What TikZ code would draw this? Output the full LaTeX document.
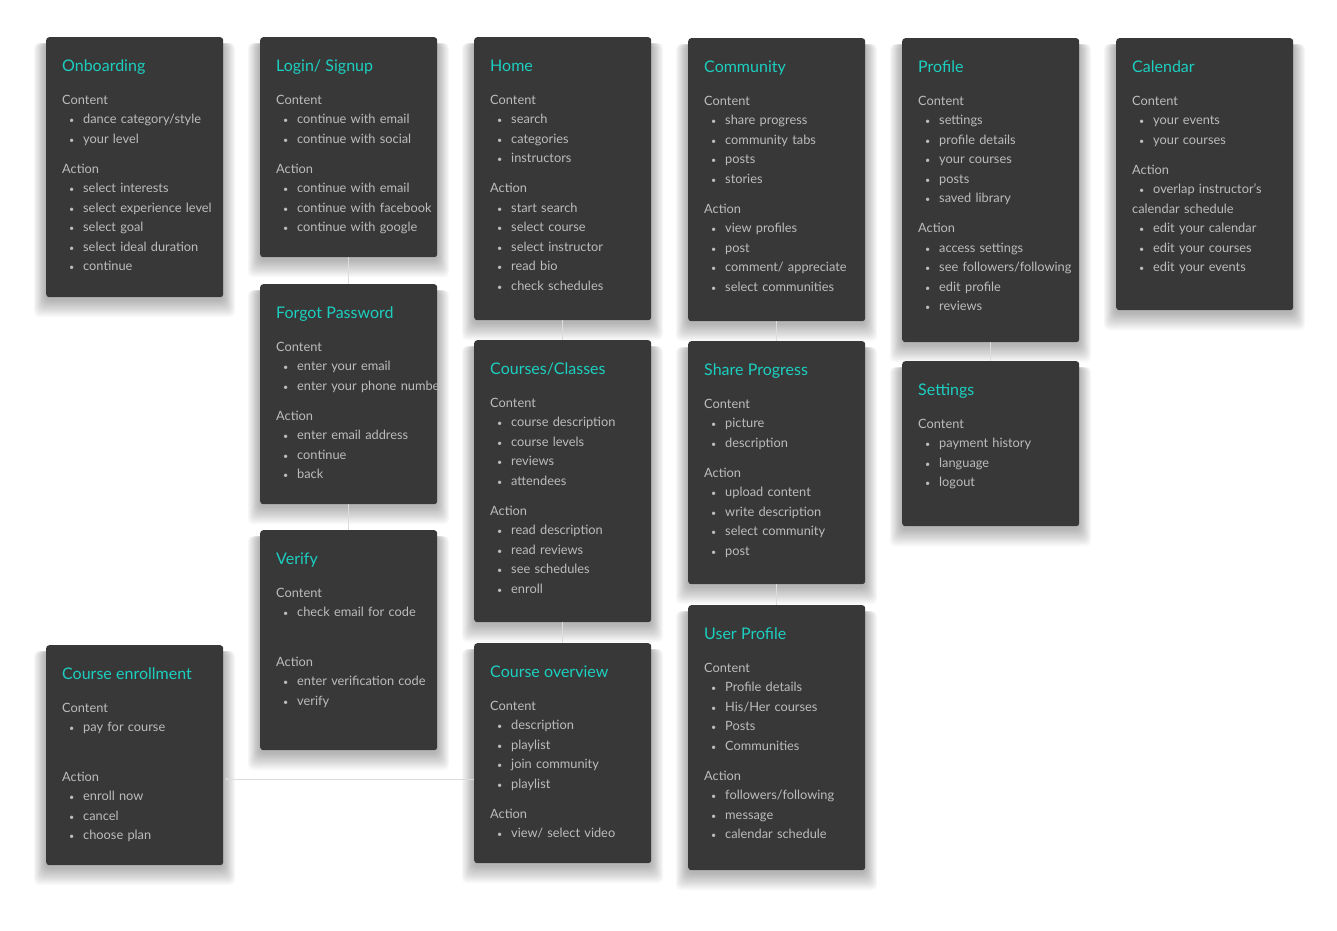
\documentclass[tikz,border=0pt]{standalone}
\usepackage{fontspec}
\setmainfont{Lato}
\usetikzlibrary{calc,arrows.meta}
\definecolor{cardbg}{HTML}{383838}
\definecolor{cardtitle}{HTML}{1CCFC0}
\definecolor{cardfg}{HTML}{BCBCBC}
\definecolor{linkgray}{HTML}{DCDCDC}

% one screen card: name, x, y, height, title, body
\newcommand\card[6]{%
	\foreach \s in {1,...,10}
		\fill[cardshadow] (#2-1.2*\s, #3+6) rectangle (#2+177+1.2*\s, #3+#4+2+1.8*\s);
	\node[card, minimum height=#4] (#1) at (#2,#3) {};
	\begin{scope}
		\clip (#1.north west) rectangle (#1.south east);
		\node[cardtext] (#1-text) at ([shift={(16,22)}]#1.north west)
			{{\color{cardtitle}\fontsize{16}{18}\selectfont\rule{0pt}{12pt}#5\par}\vspace{13.5pt}#6};
	\end{scope}}
\newcommand\head[1]{\par\vspace{10.5pt}#1\par}
\newcommand\itm[1]{\makebox[21pt][l]{\hspace*{7pt}{\fontsize{9}{9}\selectfont\textbullet}}#1\par}
\newcommand\blank{\mbox{}\par}

\begin{document}
\begin{tikzpicture}[
x=1pt, y=-1pt,
card/.style={
	rectangle, fill=cardbg, rounded corners=3pt,
	minimum width=177pt, anchor=north west, inner sep=0pt
},
cardshadow/.style={black, opacity=0.03, rounded corners=5pt},
cardtext/.style={
	anchor=north west, inner sep=0pt, text width=200pt, align=left,
	text=cardfg, font=\fontsize{12.8}{19.5}\selectfont,
	execute at begin node=\setlength{\parindent}{0pt}
},
link/.style={draw=linkgray, line width=1pt}
]
\fill[white] (0,0) rectangle (1337,930);
\useasboundingbox (0,0) rectangle (1337,930);

\card{onboard}{46}{37}{260}{Onboarding}{Content\par
	\itm{dance category/style}\itm{your level}
	\head{Action}
	\itm{select interests}\itm{select experience level}\itm{select goal}
	\itm{select ideal duration}\itm{continue}}
\card{login}{260}{37}{220}{Login/ Signup}{Content\par
	\itm{continue with email}\itm{continue with social}
	\head{Action}
	\itm{continue with email}\itm{continue with facebook}\itm{continue with google}}
\card{home}{474}{37}{283}{Home}{Content\par
	\itm{search}\itm{categories}\itm{instructors}
	\head{Action}
	\itm{start search}\itm{select course}\itm{select instructor}
	\itm{read bio}\itm{check schedules}}
\card{community}{688}{38}{283}{Community}{Content\par
	\itm{share progress}\itm{community tabs}\itm{posts}\itm{stories}
	\head{Action}
	\itm{view profiles}\itm{post}\itm{comment/ appreciate}\itm{select communities}}
\card{profile}{902}{38}{304}{Profile}{Content\par
	\itm{settings}\itm{profile details}\itm{your courses}\itm{posts}\itm{saved library}
	\head{Action}
	\itm{access settings}\itm{see followers/following}\itm{edit profile}\itm{reviews}}
\card{calendar}{1116}{38}{272}{Calendar}{Content\par
	\itm{your events}\itm{your courses}
	\head{Action}
	\itm{overlap instructor's}calendar schedule\par
	\itm{edit your calendar}\itm{edit your courses}\itm{edit your events}}
\card{forgot}{260}{284}{220}{Forgot Password}{Content\par
	\itm{enter your email}\itm{enter your phone number}
	\head{Action}
	\itm{enter email address}\itm{continue}\itm{back}}
\card{verify}{260}{530}{220}{Verify}{Content\par
	\itm{check email for code}\blank
	\head{Action}
	\itm{enter verification code}\itm{verify}}
\card{enroll}{46}{645}{220}{Course enrollment}{Content\par
	\itm{pay for course}\blank
	\head{Action}
	\itm{enroll now}\itm{cancel}\itm{choose plan}}
\card{courses}{474}{340}{282}{Courses/Classes}{Content\par
	\itm{course description}\itm{course levels}\itm{reviews}\itm{attendees}
	\head{Action}
	\itm{read description}\itm{read reviews}\itm{see schedules}\itm{enroll}}
\card{overview}{474}{643}{220}{Course overview}{Content\par
	\itm{description}\itm{playlist}\itm{join community}\itm{playlist}
	\head{Action}
	\itm{view/ select video}}
\card{share}{688}{341}{243}{Share Progress}{Content\par
	\itm{picture}\itm{description}
	\head{Action}
	\itm{upload content}\itm{write description}\itm{select community}\itm{post}}
\card{user}{688}{605}{265}{User Profile}{Content\par
	\itm{Profile details}\itm{His/Her courses}\itm{Posts}\itm{Communities}
	\head{Action}
	\itm{followers/following}\itm{message}\itm{calendar schedule}}
\card{settings}{902}{361}{165}{Settings}{Content\par
	\itm{payment history}\itm{language}\itm{logout}}

% connectors
\foreach \a/\b in {login/forgot, forgot/verify, home/courses, courses/overview,
	community/share, share/user, profile/settings}
{
	\draw[link] (\a) -- (\b);
}
\coordinate (e1) at ([shift={(2,134)}]enroll.north east);
\draw[link, {Circle[length=2.5pt, fill=gray]}-] (e1) -- (e1 -| overview.west);
\end{tikzpicture}
\end{document}
